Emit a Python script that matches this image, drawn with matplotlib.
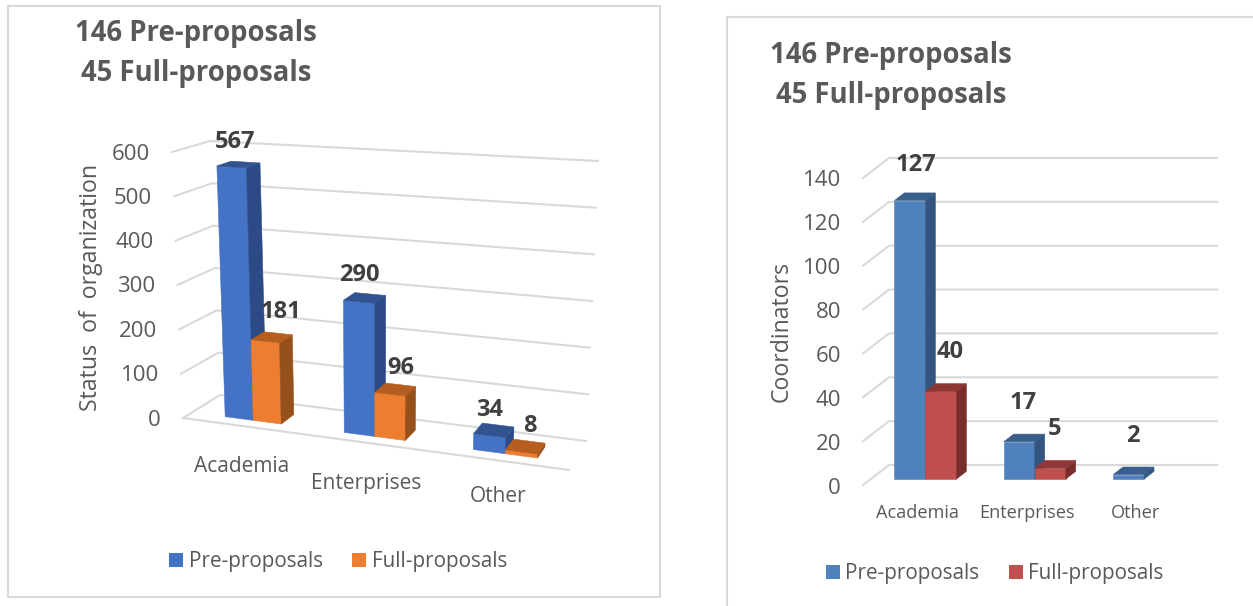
import matplotlib
matplotlib.use('Agg')
import matplotlib.pyplot as plt
from matplotlib.patches import Polygon, Rectangle

plt.rcParams['font.family'] = ['Open Sans', 'DejaVu Sans']

WIDTH, HEIGHT = 1253, 606

# Chart data
title_lines = ['146 Pre-proposals', '45 Full-proposals']
series_names = ['Pre-proposals', 'Full-proposals']
categories = ['Academia', 'Enterprises', 'Other']

status_pre = [567, 290, 34]
status_full = [181, 96, 8]
status_ticks = [0, 100, 200, 300, 400, 500, 600]

coord_pre = [127, 17, 2]
coord_full = [40, 5, 0]
coord_ticks = [0, 20, 40, 60, 80, 100, 120, 140]

GRID = '#D9D9D9'
TICK_TEXT = '#595959'
LABEL_TEXT = '#404040'

# (face, side, top) colours
LEFT_COLOURS = [('#4472C4', '#2C4A85', '#31538F'), ('#ED7D31', '#96501C', '#B65E20')]
RIGHT_COLOURS = [('#4F81BD', '#33557F', '#3A5F8C'), ('#C0504D', '#7A2E2C', '#8E3836')]


# Box corners in pixels: keys are (right?, top?, back?)
def make_projection(corners, vmax):
    def project(t, v, d):
        u = v / vmax
        x, y = 0.0, 0.0
        for (a, b, c), (px, py) in corners.items():
            w = (t if a else 1 - t) * (u if b else 1 - u) * (d if c else 1 - d)
            x += w * px
            y += w * py
        return x, y
    return project


def draw_bar(ax, project, t0, t1, value, d0, d1, colours):
    face, side, top = colours
    ax.add_patch(Polygon([project(t0, 0, d0), project(t1, 0, d0),
                          project(t1, value, d0), project(t0, value, d0)],
                         facecolor=face, edgecolor=face, lw=0.4, zorder=3))
    ax.add_patch(Polygon([project(t1, 0, d0), project(t1, 0, d1),
                          project(t1, value, d1), project(t1, value, d0)],
                         facecolor=side, edgecolor=side, lw=0.4, zorder=3))
    ax.add_patch(Polygon([project(t0, value, d0), project(t1, value, d0),
                          project(t1, value, d1), project(t0, value, d1)],
                         facecolor=top, edgecolor=top, lw=0.4, zorder=3))


def draw_grid(ax, project, ticks, front_line):
    for v in ticks:
        a, b, c = project(0, v, 0), project(0, v, 1), project(1, v, 1)
        ax.plot([a[0], b[0], c[0]], [a[1], b[1], c[1]], color=GRID, lw=1.5,
                solid_joinstyle='miter', zorder=1)
    if front_line:
        a, b = project(0, 0, 0), project(1, 0, 0)
        ax.plot([a[0], b[0]], [a[1], b[1]], color=GRID, lw=1.5, zorder=1)


def draw_group_bars(ax, project, pre, full, centers, widths, depth, colours, offsets):
    d0, d1 = depth
    for i in range(len(categories)):
        c, w = centers[i], widths[i]
        for k, (vals, t0) in enumerate(((pre, c - w), (full, c))):
            value = vals[i]
            if value == 0:
                continue
            draw_bar(ax, project, t0, t0 + w, value, d0, d1, colours[k])
            x, y = project(t0 + w / 2, value, d0)
            dx, dy = offsets[k][i]
            ax.text(x + dx, y + dy, str(value), fontsize=17, fontweight='bold',
                    color=LABEL_TEXT, ha='center', va='center', zorder=5)


def draw_legend(ax, items, y, size):
    # items: (square x, text x, colour, name)
    for sx, tx, colour, name in items:
        ax.add_patch(Rectangle((sx, y - size / 2), size, size, facecolor=colour, edgecolor='none'))
        ax.text(tx, y + 1, name, fontsize=14.9, color=TICK_TEXT, ha='left', va='center')


fig = plt.figure(figsize=(WIDTH / 100, HEIGHT / 100), dpi=100)
ax = fig.add_axes([0, 0, 1, 1])
ax.set_xlim(0, WIDTH)
ax.set_ylim(HEIGHT, 0)
ax.axis('off')

# Chart frames
ax.plot([8, 660, 660, 8, 8], [6, 6, 597, 597, 6], color=GRID, lw=1.5)
ax.plot([727, 727, 1253], [606, 17, 17], color=GRID, lw=1.5)

# Titles
for (x, y), line in zip(((196, 33), (196, 73)), title_lines):
    ax.text(x, y, line, fontsize=19.8, fontweight='bold', color=TICK_TEXT, ha='center', va='center')
for (x, y), line in zip(((891, 56), (891, 95)), title_lines):
    ax.text(x, y, line, fontsize=19.8, fontweight='bold', color=TICK_TEXT, ha='center', va='center')

# Left chart
left_box = {
    (0, 0, 0): (183, 418), (1, 0, 0): (569, 470),
    (0, 0, 1): (220, 395), (1, 0, 1): (586, 441),
    (0, 1, 0): (172, 152), (1, 1, 0): (581, 178),
    (0, 1, 1): (210, 141), (1, 1, 1): (598, 161),
}
left = make_projection(left_box, status_ticks[-1])
draw_grid(ax, left, status_ticks, True)
left_offsets = [[(3, -25), (0, -27), (0, -26)], [(16, -29), (11, -26), (8, -26)]]
draw_group_bars(ax, left, status_pre, status_full, [0.16, 0.479, 0.822], [0.0735, 0.08, 0.0843],
                (0.25, 0.64), LEFT_COLOURS, left_offsets)
for v in status_ticks:
    x, y = left(0, v, 0)
    ax.text(x - 22, y + 2, str(v), fontsize=16, color=TICK_TEXT, ha='right', va='center')
for (x, y), name in zip(((242, 466), (366, 483), (498, 497)), categories):
    ax.text(x, y, name, fontsize=15, color=TICK_TEXT, ha='center', va='center')
ax.text(91, 287, 'Status  of  organization', fontsize=16.7, color=TICK_TEXT, rotation=90,
        ha='center', va='center')
draw_legend(ax, [(169, 189, LEFT_COLOURS[0][0], series_names[0]),
                 (352, 372, LEFT_COLOURS[1][0], series_names[1])], 560, 14)

# Right chart
right_box = {
    (0, 0, 0): (863, 485), (1, 0, 0): (1191, 485),
    (0, 0, 1): (889, 465), (1, 0, 1): (1217, 465),
    (0, 1, 0): (863, 178), (1, 1, 0): (1191, 178),
    (0, 1, 1): (889, 158), (1, 1, 1): (1217, 158),
}
right = make_projection(right_box, coord_ticks[-1])
draw_grid(ax, right, coord_ticks, False)
right_offsets = [[(6, -36), (4, -39), (4, -39)], [(9, -39), (4, -39), (4, -39)]]
draw_group_bars(ax, right, coord_pre, coord_full, [1 / 6, 0.5, 5 / 6], [0.0945] * 3,
                (0.3, 0.68), RIGHT_COLOURS, right_offsets)
for v in coord_ticks:
    x, y = right(0, v, 0)
    ax.text(x - 22, y + 3, str(v), fontsize=16, color=TICK_TEXT, ha='right', va='center')
for (x, y), name in zip(((918, 513), (1027, 513), (1136, 513)), categories):
    ax.text(x, y, name, fontsize=13.1, color=TICK_TEXT, ha='center', va='center')
ax.text(782, 332, 'Coordinators', fontsize=16.6, color=TICK_TEXT, rotation=90,
        ha='center', va='center')
draw_legend(ax, [(826, 845, RIGHT_COLOURS[0][0], series_names[0]),
                 (1009, 1028, RIGHT_COLOURS[1][0], series_names[1])], 572, 14)

fig.savefig('out.png', dpi=100)
